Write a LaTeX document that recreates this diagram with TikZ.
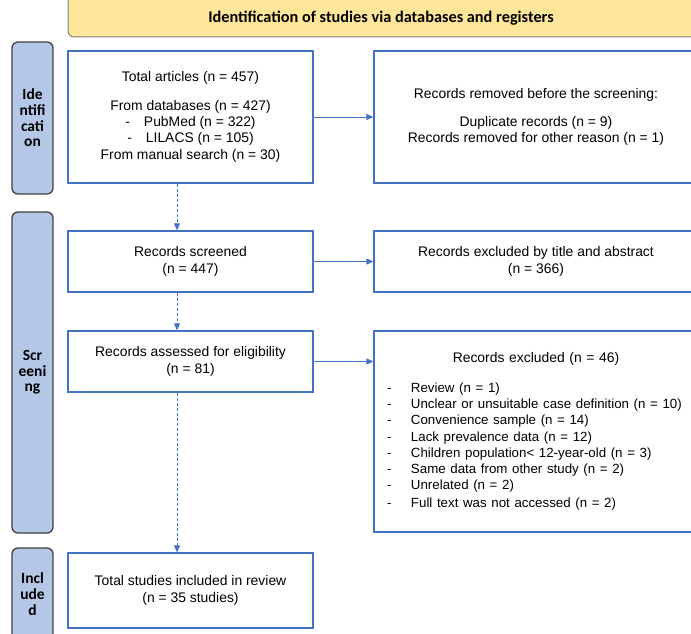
\documentclass[tikz,border=0pt]{standalone}
\usepackage{fontspec}
\setmainfont{Liberation Sans}
\newfontfamily\calib{Carlito}
\usetikzlibrary{arrows.meta}
\definecolor{bblue}{HTML}{4472C4}
\definecolor{sidefill}{HTML}{B4C7E7}
\definecolor{sidedraw}{HTML}{404040}
\definecolor{bannerfill}{HTML}{FFE699}
\definecolor{bannerdraw}{HTML}{7F7F7F}
\newcommand{\listfont}{\fontsize{13.3}{16.2}\selectfont}
\begin{document}
\begin{tikzpicture}[x=1pt,y=-1pt,
  box/.style={draw=bblue, line width=1.3pt, fill=white, align=center, inner sep=0pt,
    font=\fontsize{13.9}{16.3}\selectfont},
  side/.style={draw=sidedraw, line width=1.3pt, fill=sidefill, rounded corners=6pt,
    minimum width=41pt, inner sep=0pt, align=center,
    font=\calib\bfseries\fontsize{15.5}{15.7}\selectfont},
  banner/.style={draw=bannerdraw, line width=1pt, fill=bannerfill, rounded corners=6pt,
    minimum width=632pt, minimum height=44pt, inner sep=0pt},
  harrow/.style={draw=bblue, line width=0.9pt, -{Triangle[length=7pt,width=6pt]}},
  varrow/.style={draw=bblue, line width=0.9pt, dash pattern=on 3pt off 2pt,
    -{Triangle[length=7pt,width=6pt]}}
]
\useasboundingbox (0,0) rectangle (691,634);
\clip (0,0) rectangle (691,634);
\fill[white] (0,0) rectangle (691,634);

% banner
\node[banner] (banner) at (384,15) {};
\node[font=\calib\bfseries\fontsize{16.3}{18}\selectfont] (title) at (381,18)
  {Identification of studies via databases and registers};

% side bars
\node[side, minimum height=152pt] (sideid) at (32.5,118) {Ide\\ntifi\\cati\\on};
\node[side, minimum height=321pt] (sidescr) at (32.5,372.5) {Scr\\eeni\\ng};
\node[side, minimum height=92pt] (sideinc) at (32.5,594) {Incl\\ude\\d};

% boxes
\node[box, minimum width=245pt, minimum height=132pt] (b1) at (190.5,117)
  {Total articles (n = 457)\\[12pt]
   From databases (n = 427)\\
   -\hspace{14pt}PubMed (n = 322)\\
   -\hspace{14pt}LILACS (n = 105)\\
   From manual search (n = 30)};
\node[box, minimum width=324pt, minimum height=132pt] (b2) at (536,117)
  {Records removed before the screening:\\[11pt]
   Duplicate records (n = 9)\\
   Records removed for other reason (n = 1)};
\node[box, minimum width=245pt, minimum height=61pt] (b3) at (190.5,261.5)
  {Records screened\\(n = 447)};
\node[box, minimum width=324pt, minimum height=61pt] (b4) at (536,261.5)
  {Records excluded by title and abstract\\(n = 366)};
\node[box, minimum width=245pt, minimum height=61pt] (b5) at (190.5,361.5)
  {Records assessed for eligibility\\(n = 81)};
\node[box, minimum width=324pt, minimum height=201pt, text width=298pt, align=left] (b6) at (536,431.5)
  {\makebox[\linewidth][c]{Records excluded (n = 46)}\\[13.5pt]
   \listfont
   \mbox{\makebox[24pt][l]{-}Review (n = 1)}\\
   \mbox{\makebox[24pt][l]{-}Unclear or unsuitable case definition (n = 10)}\\
   \mbox{\makebox[24pt][l]{-}Convenience sample (n = 14)}\\
   \mbox{\makebox[24pt][l]{-}Lack prevalence data (n = 12)}\\
   \mbox{\makebox[24pt][l]{-}Children population< 12-year-old (n = 3)}\\
   \mbox{\makebox[24pt][l]{-}Same data from other study (n = 2)}\\
   \mbox{\makebox[24pt][l]{-}Unrelated (n = 2)}\\[1.5pt]
   \mbox{\makebox[24pt][l]{-}Full text was not accessed (n = 2)}};
\node[box, minimum width=245pt, minimum height=75pt] (b7) at (190.5,590.5)
  {Total studies included in review\\(n = 35 studies)};

% connectors
\coordinate (vx) at (177,0);
\draw[harrow] (b1.east) -- (b2.west);
\draw[harrow] (b3.east) -- (b4.west);
\draw[harrow] (b5.east) -- (b5.east -| b6.west);
\draw[varrow] (b1.south -| vx) -- (b3.north -| vx);
\draw[varrow] (b3.south -| vx) -- (b5.north -| vx);
\draw[varrow] (b5.south -| vx) -- (b7.north -| vx);
\end{tikzpicture}
\end{document}
